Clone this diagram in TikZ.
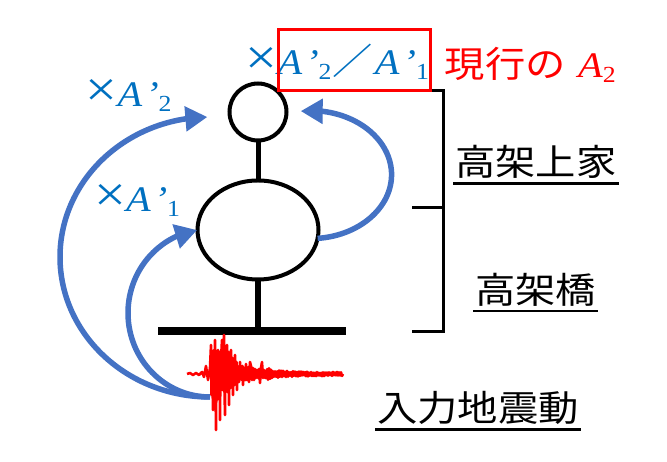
\documentclass[tikz,border=0pt]{standalone}
\usepackage{fontspec}
\usepackage{graphicx}
\usetikzlibrary{arrows.meta,bending,shapes.geometric}
\setmainfont{Liberation Serif}
\newfontfamily\tnr[FakeStretch=1.12]{Liberation Serif}
\newfontfamily\cjk[FakeStretch=1.12]{Noto Sans CJK JP}
\definecolor{txtblue}{RGB}{0,112,192}
\definecolor{arrblue}{RGB}{68,114,196}
\definecolor{pred}{RGB}{255,0,0}
\newcommand\subdig[1]{\raisebox{-5pt}{\fontsize{23}{23}\selectfont #1}}
\newcommand\bigx{\scalebox{1.4}{×}}
\begin{document}
\begin{tikzpicture}[x=1pt,y=1pt,
  ring/.style={draw=black,line width=4pt,inner sep=0pt,outer sep=0pt},
  stem/.style={line width=5pt},
  brk/.style={line width=3pt},
  arr/.style={draw=arrblue,line width=5.5pt,-{Triangle[length=22pt,width=24pt]}},
  wave/.style={draw=pred,line width=2.6pt,line join=round},
  jlab/.style={anchor=base west,inner sep=0pt,font=\cjk\fontsize{36}{40}\selectfont},
  uline/.style={line width=2.6pt},
  blab/.style={anchor=base west,inner sep=0pt,text=txtblue,font=\tnr\fontsize{36}{40}\selectfont},
]
\useasboundingbox (0,0) rectangle (667,462);
% structure
\node[ring,circle,minimum size=57pt] (top) at (258,350) {};
\node[ring,ellipse,minimum width=121pt,minimum height=99pt] (mid) at (258,232) {};
\node[fill=black,minimum width=188pt,minimum height=8pt,inner sep=0pt] (base) at (252,130.5) {};
\draw[stem] (top.south) -- (mid.north);
\draw[stem,line width=6pt] (mid.south) -- (mid.south |- base.north);
% bracket
\coordinate (b1) at (412,371);
\coordinate (b2) at (443,371);
\coordinate (b3) at (443,130);
\coordinate (b4) at (412,130);
\coordinate (b5) at (412,254);
\coordinate (b6) at (443,254);
\draw[brk] (b1) -- (b2) -- (b3) -- (b4);
\draw[brk] (b5) -- (b6);
% arrows
\coordinate (src) at (210,65);
\draw[arr] (src) arc[start angle=270,end angle=91,x radius=150,y radius=140];
\draw[arr] (src) arc[start angle=270,end angle=99,x radius=82,y radius=84];
\draw[arr] (mid.-8) arc[start angle=-85,end angle=97,x radius=81,y radius=64];
% waveform
\begin{scope}[shift={(0,462)},y=-1pt]
\pgfmathsetseed{7}
\draw[wave] (187,374) -- (190,373) -- (193,375) -- (196,373) -- (199,375) -- (202,372) -- (204,377) -- (206,366) -- (208,380) -- (210,368) -- (211,345) -- (211.5,395) -- (212,352) -- (213,410) -- (213.5,358) -- (214,350) -- (214.5,392) -- (215,340) -- (215.5,385) -- (216,430) -- (216.5,360) -- (217,400) -- (217.5,355) -- (218,350) -- (218.5,395) -- (219,372) -- (219.5,352) -- (220,420) -- (220.5,360) -- (221,380) -- (221.5,350) -- (222,340) -- (222.5,390) -- (223,360) -- (223.5,345) -- (224,335) -- (224.5,390) -- (225,415) -- (225.5,355) -- (226,380) -- (226.5,350) -- (227,345) -- (227.5,392) -- (228,370) -- (228.5,352) -- (229,405) -- (229.5,360) -- (230,360) -- (230.5,388) -- (231,350) -- (231.5,380) -- (232,385) -- (232.5,358) -- (233,395) -- (233.5,362) -- (234,365) -- (234.5,385) -- (235,355) -- (235.5,382) -- (236,380) -- (236.5,362) -- (237,390) -- (237.5,366) -- (238,368) -- (239,382) -- (240,362) -- (241,378) -- (242,380) -- (242.5,366) -- (243,385) -- (244,368) -- (245,368) -- (245.5,380) -- (246,364) -- (247,380) -- (248,378) -- (248.5,367) -- (249,382) -- (250,362) -- (251,366) -- (252,380) -- (253,368) -- (254,380) -- (255,369) -- (256,378) -- (257,370) -- (258,378) -- (259,369) -- (260,383) -- (261,368) -- (262,362) -- (263,378) -- (264,370) -- (265,378)
  \foreach \x in {266,267,...,342}{ -- (\x,{374+(mod(\x,2)==0 ? 1 : -1)*(0.5+0.5*rnd)*(2.2+5*exp(-(\x-265)/14))}) } -- (343,374);
\end{scope}
% labels
\node[blab] (lt) at (245.5,387) {\bigx\textit{A}\hspace{3pt}\textit{’}\subdig{2}\hspace{1pt}{\cjk ／}\hspace{2pt}\textit{A}\hspace{3pt}\textit{’}\subdig{1}};
\node[blab] (l2) at (85.5,355) {\bigx\textit{A}\hspace{3pt}\textit{’}\subdig{2}};
\node[blab] (l1) at (94,250.5) {\bigx\textit{A}\hspace{3pt}\textit{’}\subdig{1}};
\node[anchor=base west,inner sep=0pt,text=pred] (cur) at (444.5,384) {{\cjk\fontsize{36}{40}\selectfont 現行の}\hspace{12.5pt}{\tnr\fontsize{36}{40}\selectfont\textit{A}\subdig{2}}};
\node[draw=pred,line width=3pt,minimum width=152pt,minimum height=60.4pt,inner sep=0pt] (box) at (354.8,402) {};
\node[jlab] (h1) at (455,286) {高架上家};
\node[jlab] (h2) at (475,158.3) {高架橋};
\node[jlab] (h3) at (377,40) {入力地震動};
\draw[uline] ([xshift=-2pt,yshift=-7.3pt]h1.base west) -- ([xshift=2pt,yshift=-7.3pt]h1.base east);
\draw[uline] ([xshift=-2pt,yshift=-7.3pt]h2.base west) -- ([xshift=2pt,yshift=-7.3pt]h2.base east);
\draw[uline] ([xshift=-2pt,yshift=-7.3pt]h3.base west) -- ([xshift=2pt,yshift=-7.3pt]h3.base east);
\end{tikzpicture}
\end{document}
